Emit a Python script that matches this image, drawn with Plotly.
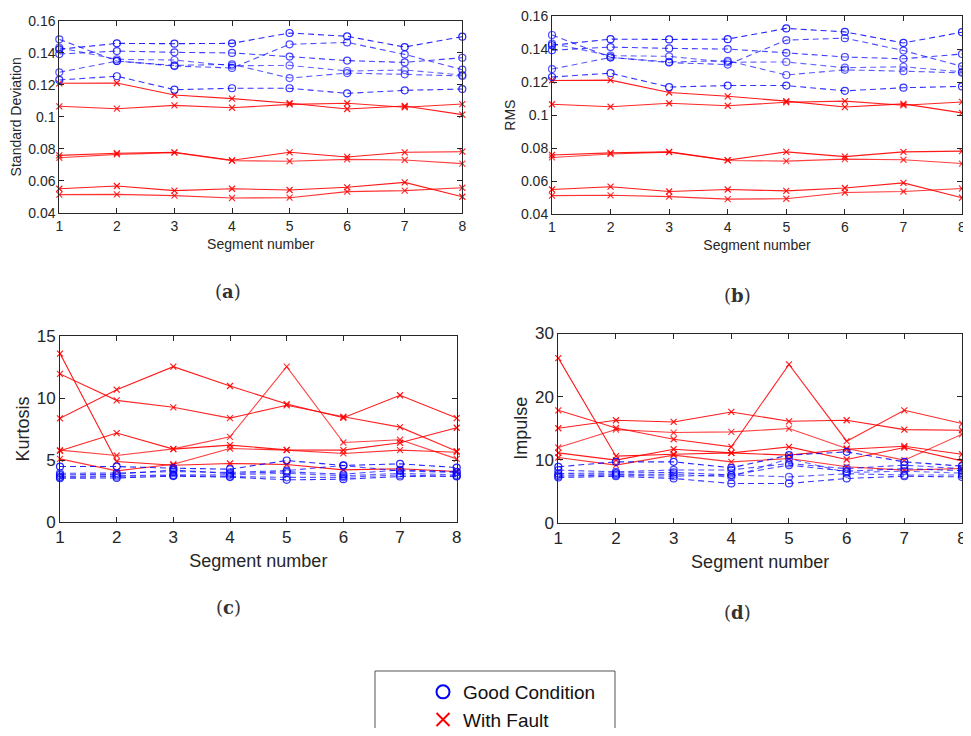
import plotly.graph_objects as go

segments = [1, 2, 3, 4, 5, 6, 7, 8]

# (a) Standard deviation
std_good = [
    [0.1423, 0.1460, 0.1458, 0.1460, 0.1525, 0.1504, 0.1437, 0.1502],
    [0.1485, 0.1350, 0.1318, 0.1306, 0.1454, 0.1466, 0.1391, 0.1295],
    [0.1393, 0.1412, 0.1404, 0.1400, 0.1377, 0.1352, 0.1341, 0.1370],
    [0.1433, 0.1360, 0.1356, 0.1320, 0.1322, 0.1287, 0.1293, 0.1262],
    [0.1279, 0.1349, 0.1322, 0.1329, 0.1243, 0.1274, 0.1266, 0.1256],
    [0.1231, 0.1254, 0.1170, 0.1179, 0.1179, 0.1147, 0.1166, 0.1174],
]
std_fault = [
    [0.1210, 0.1212, 0.1137, 0.1114, 0.1085, 0.1049, 0.1068, 0.1014],
    [0.1066, 0.1051, 0.1072, 0.1057, 0.1078, 0.1085, 0.1060, 0.1080],
    [0.0759, 0.0772, 0.0778, 0.0728, 0.0778, 0.0749, 0.0778, 0.0782],
    [0.0744, 0.0765, 0.0776, 0.0726, 0.0722, 0.0734, 0.0730, 0.0707],
    [0.0550, 0.0567, 0.0538, 0.0550, 0.0542, 0.0559, 0.0590, 0.0500],
    [0.0513, 0.0515, 0.0507, 0.0492, 0.0494, 0.0532, 0.0538, 0.0556],
]

# (b) RMS
rms_good = [
    [0.1423, 0.1460, 0.1458, 0.1460, 0.1525, 0.1504, 0.1437, 0.1502],
    [0.1485, 0.1350, 0.1318, 0.1306, 0.1454, 0.1466, 0.1391, 0.1295],
    [0.1393, 0.1412, 0.1404, 0.1400, 0.1377, 0.1352, 0.1341, 0.1370],
    [0.1433, 0.1360, 0.1356, 0.1320, 0.1322, 0.1287, 0.1293, 0.1262],
    [0.1279, 0.1349, 0.1322, 0.1329, 0.1243, 0.1274, 0.1266, 0.1256],
    [0.1231, 0.1254, 0.1170, 0.1179, 0.1179, 0.1147, 0.1166, 0.1174],
]
rms_fault = [
    [0.1210, 0.1212, 0.1137, 0.1114, 0.1085, 0.1049, 0.1068, 0.1014],
    [0.1066, 0.1051, 0.1072, 0.1057, 0.1078, 0.1085, 0.1060, 0.1080],
    [0.0759, 0.0772, 0.0778, 0.0728, 0.0778, 0.0749, 0.0778, 0.0782],
    [0.0744, 0.0765, 0.0776, 0.0726, 0.0722, 0.0734, 0.0730, 0.0707],
    [0.0550, 0.0567, 0.0538, 0.0550, 0.0542, 0.0559, 0.0590, 0.0500],
    [0.0513, 0.0515, 0.0507, 0.0492, 0.0494, 0.0532, 0.0538, 0.0556],
]

# (c) Kurtosis
kurt_good = [
    [4.47, 4.47, 4.34, 4.26, 4.96, 4.56, 4.69, 4.39],
    [3.93, 3.95, 4.07, 4.00, 4.15, 4.55, 4.12, 4.00],
    [3.80, 3.85, 4.20, 3.90, 4.05, 3.85, 4.20, 4.05],
    [3.67, 3.75, 3.80, 3.80, 3.93, 3.72, 3.93, 3.80],
    [3.60, 3.65, 3.75, 3.67, 3.60, 3.60, 3.80, 3.67],
    [3.53, 3.55, 3.70, 3.62, 3.40, 3.45, 3.67, 3.70],
]
kurt_fault = [
    [13.58, 4.88, 4.58, 4.72, 4.64, 4.20, 4.29, 4.07],
    [11.94, 9.81, 9.25, 8.38, 9.41, 8.49, 7.65, 5.71],
    [8.36, 10.67, 12.53, 10.97, 9.51, 8.41, 10.22, 8.38],
    [5.80, 5.36, 5.90, 6.87, 12.53, 6.41, 6.63, 5.09],
    [5.74, 7.17, 5.88, 6.20, 5.82, 5.80, 6.39, 7.60],
    [5.09, 4.12, 4.66, 5.93, 5.80, 5.53, 5.80, 5.63],
]

# (d) Impulse
imp_good = [
    [8.90, 9.68, 9.68, 8.74, 10.74, 11.26, 9.68, 9.00],
    [8.37, 8.10, 8.40, 8.40, 9.42, 8.60, 9.16, 8.60],
    [7.84, 7.90, 8.00, 7.60, 9.16, 8.20, 8.60, 8.30],
    [7.60, 7.70, 7.70, 7.30, 10.20, 8.00, 8.20, 7.90],
    [7.42, 7.60, 7.40, 7.60, 7.30, 7.80, 7.60, 7.60],
    [7.20, 7.40, 7.05, 6.26, 6.26, 7.05, 7.40, 7.30],
]
imp_fault = [
    [26.10, 10.58, 10.89, 11.10, 10.74, 11.68, 12.16, 10.89],
    [17.84, 15.05, 13.26, 12.05, 25.10, 12.95, 17.84, 15.74],
    [15.00, 16.26, 16.00, 17.58, 16.10, 16.26, 14.79, 14.68],
    [11.95, 14.79, 14.32, 14.42, 14.95, 11.79, 9.95, 14.05],
    [11.10, 9.95, 11.68, 11.10, 12.05, 10.05, 11.95, 9.84],
    [10.37, 9.16, 10.74, 9.68, 10.20, 8.90, 8.37, 8.63],
]

y_titles = ["Standard Deviation", "RMS", "Kurtosis", "Impulse"]
captions = ["a", "b", "c", "d"]
legend_names = ["Good Condition", "With Fault"]

blue_alphas = [0.85, 0.7, 0.75, 0.6, 0.65, 0.8]
red_alphas = [0.9, 0.85, 0.9, 0.75, 0.9, 0.8]

TXT = "#262626"
FONT = "Liberation Sans, Arial, sans-serif"

fig = go.Figure()

panels = [
    (std_good, std_fault, "x", "y"),
    (rms_good, rms_fault, "x2", "y2"),
    (kurt_good, kurt_fault, "x3", "y3"),
    (imp_good, imp_fault, "x4", "y4"),
]

for good, fault, xa, ya in panels:
    for i, s in enumerate(fault):
        fig.add_trace(go.Scatter(
            x=segments, y=s, xaxis=xa, yaxis=ya, mode="lines+markers",
            line=dict(color=f"rgba(255,0,0,{red_alphas[i]})", width=1.1),
            marker=dict(symbol="x-thin-open", size=6,
                        line=dict(color=f"rgba(255,0,0,{red_alphas[i]})", width=1.2)),
            showlegend=False, hoverinfo="skip", cliponaxis=False))
    for i, s in enumerate(good):
        fig.add_trace(go.Scatter(
            x=segments, y=s, xaxis=xa, yaxis=ya, mode="lines+markers",
            line=dict(color=f"rgba(0,0,255,{blue_alphas[i]})", width=1.1, dash="6px,4px"),
            marker=dict(symbol="circle-open", size=7,
                        line=dict(color="rgba(0,0,255,0.9)", width=1.2)),
            showlegend=False, hoverinfo="skip", cliponaxis=False))

# legend entries (markers only)
fig.add_trace(go.Scatter(x=[None], y=[None], mode="markers", name=legend_names[0],
                         marker=dict(symbol="circle-open", size=13, color="blue",
                                     line=dict(color="blue", width=2))))
fig.add_trace(go.Scatter(x=[None], y=[None], mode="markers", name=legend_names[1],
                         marker=dict(symbol="x-thin-open", size=13, color="red",
                                     line=dict(color="red", width=2))))

def ax_common(size):
    return dict(showline=True, linecolor=TXT, linewidth=1, mirror="ticks",
                ticks="inside", ticklen=5, tickcolor=TXT, tickwidth=1,
                showgrid=False, zeroline=False, ticklabeloverflow="allow",
                tickfont=dict(family=FONT, size=size, color=TXT))

# page: 8px body margin around a 955x720 figure; positions are page pixels
M = 8
W, H = 971 - 2 * M, 736 - 2 * M

def px(R):
    return min(1.0, max(0.0, (R - M) / W))

def py(R):
    return 1 - (R - M) / H

def clamp(v):
    return min(1.0, max(0.0, v))

dom = {
    "a": ([px(59.3), px(462.3)], [clamp(py(212.7)), clamp(py(21))]),
    "b": ([px(552), px(962)], [clamp(py(214.3)), clamp(py(16))]),
    "c": ([px(60), px(456.7)], [clamp(py(522)), clamp(py(336))]),
    "d": ([px(558.3), px(962)], [clamp(py(523)), clamp(py(333.5))]),
}

small, big = 14, 17
layout = dict(
    width=W, height=H, margin=dict(l=0, r=0, t=0, b=0, autoexpand=False),
    paper_bgcolor="white", plot_bgcolor="white",
    font=dict(family=FONT, color=TXT),
    showlegend=True,
    legend=dict(x=px(423), y=py(673), xanchor="left", yanchor="top",
                font=dict(family=FONT, size=19, color="#111111"),
                bgcolor="rgba(0,0,0,0)", borderwidth=0, tracegroupgap=0),
)

keys = ["a", "b", "c", "d"]
yranges = [[0.04, 0.16], [0.04, 0.16], [0, 15], [0, 30]]
ydticks = [0.02, 0.02, 5, 10]
ystand = [6, 2, 2, 2]
xstand = [6, 6, 7, 7]
for k, (key, yr, dt, yt) in enumerate(zip(keys, yranges, ydticks, y_titles)):
    sz = small if k < 2 else big
    tsz = 14 if k < 2 else 18
    sfx = "" if k == 0 else str(k + 1)
    xd, yd = dom[key]
    xa = ax_common(sz)
    xa.update(domain=xd, range=[1, 8], tick0=1, dtick=1, anchor="y" + sfx,
              title=dict(text="Segment number", font=dict(family=FONT, size=tsz, color=TXT),
                         standoff=xstand[k]))
    ya = ax_common(sz)
    ya.update(domain=yd, range=yr, tick0=yr[0], dtick=dt, anchor="x" + sfx,
              title=dict(text=yt, font=dict(family=FONT, size=tsz, color=TXT),
                         standoff=ystand[k]))
    layout["xaxis" + sfx] = xa
    layout["yaxis" + sfx] = ya

fig.update_layout(**layout)

cap_pos = [(228, 292), (737, 295), (228, 607), (737, 612)]
for c, (cx, cy) in zip(captions, cap_pos):
    fig.add_annotation(x=px(cx), y=py(cy), xref="paper", yref="paper",
                       text=f"(<b>{c}</b>)", showarrow=False,
                       font=dict(family="DejaVu Serif, Liberation Serif, serif", size=18,
                                 color="#333333"),
                       xanchor="center", yanchor="middle")

# legend frame: open at the bottom (cut by the page edge in the reference)
x0, x1, yb, yt = px(375), px(615), py(748), py(671)
fig.add_shape(type="path", xref="paper", yref="paper",
              path=f"M {x0},{yb} L {x0},{yt} L {x1},{yt} L {x1},{yb}",
              line=dict(color="#555555", width=1))

fig.write_html("out.html", config={"displayModeBar": False})
